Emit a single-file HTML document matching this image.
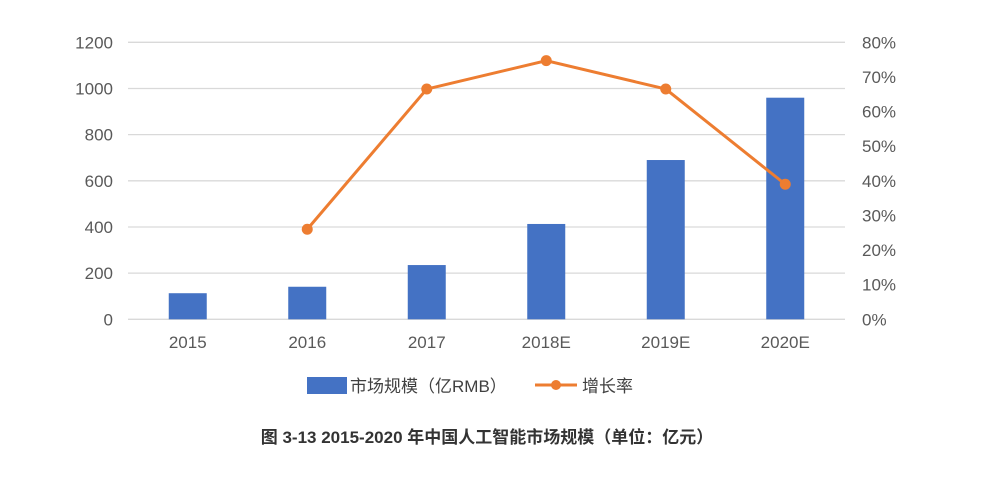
<!DOCTYPE html>
<html><head><meta charset="utf-8"><style>
body{margin:0;background:#fff;}
svg text{font-family:"Liberation Sans","Noto Sans CJK SC",sans-serif;}
</style></head><body>
<svg width="1000" height="472" viewBox="0 0 1000 472">
<g id="grid"></g>
<g id="bars"></g>
<g id="line"></g>
<g id="axes"></g>
<g>
<rect x="307" y="377" width="40" height="17" fill="#4472c4"/>
<text x="350" y="392" font-size="17" fill="#404040">市场规模（亿RMB）</text>
<line x1="535" y1="385" x2="577" y2="385" stroke="#ed7d31" stroke-width="3"/>
<circle cx="556" cy="385" r="5" fill="#ed7d31"/>
<text x="582" y="392" font-size="17" fill="#404040">增长率</text>
</g>
<text x="487" y="443" font-size="17" font-weight="bold" fill="#333" text-anchor="middle">图 3-13  2015-2020 年中国人工智能市场规模（单位：亿元）</text>
</svg>
<script>
const categories=["2015","2016","2017","2018E","2019E","2020E"];
const marketSize=[113,141,235,413,690,960];
const growthRate=[null,26,66.5,74.7,66.5,39];
const leftTicks=[0,200,400,600,800,1000,1200];
const rightTicks=[0,10,20,30,40,50,60,70,80];
const NS="http://www.w3.org/2000/svg";
const X0=128,X1=845,Y0=319.3,Y1=42.3;
const band=(X1-X0)/categories.length;
const xc=i=>X0+band*(i+0.5);
const yL=v=>Y0-(v/1200)*(Y0-Y1);
const yR=v=>Y0-(v/80)*(Y0-Y1);
function mk(tag,attrs,parent,txt){const e=document.createElementNS(NS,tag);for(const k in attrs)e.setAttribute(k,attrs[k]);if(txt!==undefined)e.textContent=txt;parent.appendChild(e);return e;}
const grid=document.getElementById('grid'),bars=document.getElementById('bars'),line=document.getElementById('line'),axes=document.getElementById('axes');
leftTicks.forEach(t=>{
 const l=mk('line',{x1:X0,x2:X1,y1:yL(t),y2:yL(t),stroke:'#d9d9d9','stroke-width':1.3},grid);
 
 
 const tx=mk('text',{x:113,y:yL(t)+6,'font-size':17,fill:'#595959','text-anchor':'end'},axes,String(t));
 
 
});
rightTicks.forEach(t=>{
 const tx=mk('text',{x:862,y:yR(t)+6,'font-size':17,fill:'#595959'},axes,t+'%');
 
 
});
categories.forEach((c,i)=>{
 const r=mk('rect',{x:xc(i)-19,y:yL(marketSize[i]),width:38,height:Y0-yL(marketSize[i]),fill:'#4472c4'},bars);
 
 
 const tx=mk('text',{x:xc(i),y:348,'font-size':17,fill:'#595959','text-anchor':'middle'},axes,c);
 
 
});
const pts=[];growthRate.forEach((v,i)=>{if(v!==null)pts.push([xc(i),yR(v)]);});
const pl=mk('polyline',{points:pts.map(p=>p.join(',')).join(' '),fill:'none',stroke:'#ed7d31','stroke-width':3},line);


pts.forEach(p=>{
 const c=mk('circle',{cx:p[0],cy:p[1],r:5.5,fill:'#ed7d31'},line);
 
 
});
</script>
</body></html>
